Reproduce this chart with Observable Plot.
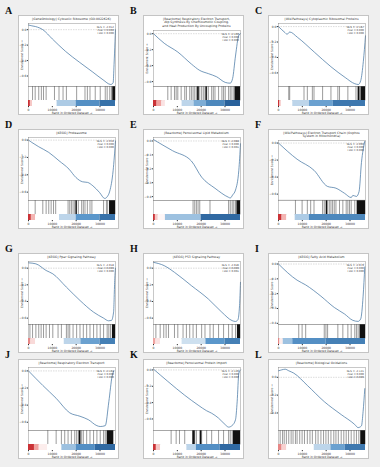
<!DOCTYPE html>
<html><head><meta charset="utf-8">
<script src="https://cdn.jsdelivr.net/npm/d3@7"></script>
<script src="https://cdn.jsdelivr.net/npm/@observablehq/plot@0.6"></script>
<style>
html,body{margin:0;padding:0;background:#efefef;}
#fig{position:relative;width:380px;height:467px;background:#efefef;font-family:"DejaVu Sans",sans-serif;overflow:hidden}
.panel{position:absolute;width:101px;height:100px;background:#fff;border:1px solid #c4c4c4;box-sizing:border-box}
.letter{position:absolute;font-family:"Liberation Serif",serif;font-weight:bold;font-size:10px;line-height:10px;color:#111}
.title{font-size:3.1px;line-height:3.7px;text-align:center;padding:1.5px 3px 0 9px;color:#333;box-sizing:border-box;white-space:pre-line;}
.panel svg{display:block}
</style></head><body><div id="fig"></div>
<script>
// ---------- data ----------
const letters = ["A","B","C","D","E","F","G","H","I","J","K","L"];
const titles = [
  "[GeneOntology] Cytosolic Ribosome (GO:0022626)",
  "[Reactome] Respiratory Electron Transport,\nAtp Synthesis By Chemiosmotic Coupling,\nand Heat Production By Uncoupling Proteins",
  "[WikiPathways] Cytoplasmic Ribosomal Proteins",
  "[KEGG] Proteasome",
  "[Reactome] Peroxisomal Lipid Metabolism",
  "[WikiPathways] Electron Transport Chain (Oxphos\nSystem in Mitochondria)",
  "[KEGG] Ppar Signaling Pathway",
  "[KEGG] P53 Signaling Pathway",
  "[KEGG] Fatty Acid Metabolism",
  "[Reactome] Respiratory Electron Transport",
  "[Reactome] Peroxisomal Protein Import",
  "[Reactome] Biological Oxidations"
];
const nes  = ["-2.012","-2.109","-2.187","-2.059","-2.088","-2.093","-2.018","-2.046","-2.079","-2.104","-2.126","-2.121"];
const pval = ["0.000","0.000","0.000","0.000","0.000","0.000","0.000","0.000","0.000","0.000","0.000","0.000"];
const fdr  = ["0.000","0.000","0.000","0.000","0.001","0.000","0.000","0.001","0.000","0.000","0.000","0.000"];
const xTicks = [0, 10000, 20000, 30000];

// running enrichment score: [rank, ES]
const esA = [[0,0.06],[1400,0.05],[3000,0.04],[6000,0.0],[10000,-0.12],[15500,-0.28],[21300,-0.42],[27000,-0.55],[31300,-0.65],[34500,-0.71],[35500,-0.69],[35900,-0.45],[36300,-0.15],[36500,0]];
const esB = [[0,0],[4500,-0.12],[10200,-0.23],[15900,-0.38],[19400,-0.46],[23000,-0.5],[26500,-0.54],[30100,-0.61],[32200,-0.62],[33200,-0.56],[34400,-0.28],[35800,-0.02],[36500,0]];
const esC = [[0,0],[2800,-0.08],[3600,-0.1],[4700,-0.07],[8000,-0.14],[15000,-0.33],[22000,-0.52],[28000,-0.66],[32000,-0.74],[33500,-0.75],[34500,-0.7],[35600,-0.45],[36500,-0.12]];
const esD = [[0,0],[1400,-0.027],[4300,-0.077],[8500,-0.142],[12800,-0.238],[17000,-0.335],[19900,-0.431],[22700,-0.481],[24800,-0.488],[27000,-0.527],[29800,-0.604],[32000,-0.673],[33000,-0.654],[34100,-0.588],[35500,-0.354],[36500,-0.01]];
const esE = [[0,0.01],[8000,-0.07],[15900,-0.144],[20200,-0.26],[25800,-0.34],[31500,-0.405],[32200,-0.41],[33200,-0.388],[34400,-0.353],[35800,-0.21],[36500,-0.02]];
const esF = [[0,0],[7800,-0.19],[14900,-0.32],[20600,-0.51],[24100,-0.53],[27700,-0.59],[30500,-0.64],[31200,-0.615],[32700,-0.627],[33800,-0.57],[34800,-0.23],[36200,0.02]];
const esG = [[0,0.064],[3100,0.052],[7400,-0.028],[10200,-0.068],[15900,-0.228],[21600,-0.388],[27300,-0.528],[31500,-0.6],[33600,-0.632],[34800,-0.628],[35700,-0.528],[36200,-0.128],[36500,0]];
const esH = [[0,0.07],[4500,0.03],[8800,-0.05],[15900,-0.21],[23000,-0.37],[28700,-0.53],[33000,-0.63],[34400,-0.64],[35400,-0.62],[36100,-0.45],[36500,-0.17]];
const esI = [[0,0],[7800,-0.109],[11400,-0.141],[17800,-0.217],[23400,-0.293],[27700,-0.337],[31200,-0.38],[33400,-0.387],[34500,-0.37],[35500,-0.217],[36200,-0.02]];
const esJ = [[0,0],[6000,-0.17],[11600,-0.32],[17300,-0.49],[21600,-0.53],[25100,-0.57],[28700,-0.64],[30100,-0.65],[32200,-0.64],[33700,-0.36],[35100,-0.06],[35800,0]];
const esK = [[0,0.01],[6000,-0.14],[13100,-0.31],[18700,-0.43],[22300,-0.5],[24400,-0.53],[27300,-0.59],[30100,-0.67],[31500,-0.7],[33000,-0.68],[34400,-0.61],[35100,-0.39],[35800,-0.04],[36500,0]];
const esL = [[0,0.073],[1400,0.084],[2800,0.091],[4300,0.073],[6400,0.047],[12100,-0.091],[19200,-0.273],[26300,-0.418],[31900,-0.527],[33400,-0.564],[34800,-0.545],[35500,-0.382],[36200,-0.127]];

// gene-set hits (ranks) and dense hit blocks [from, to]
const hitsA = [1700,2800,4300,5400,6300,7400,10900,12800,14500,15900,20200,23700,24700,25800,28000,30100,32200,33000,34100,34800,35200];
const blocksA = [[35400,36500]];
const hitsB = [6000,7400,8800,9500,10200,11600,13100,13800,15200,15900,16600,17300,18000,18700,19400,20200,20900,21600,22300,23000,24400,25100,25800,27300,28700,29400,30100,31500,32200,32900,33700];
const blocksB = [[18500,19200],[22000,22600],[34200,36500]];
const hitsC = [4300,4700,10700,12100,14200,14900,18500,22000,24900,25600,29100,32500];
const blocksC = [[33400,34200],[34600,36500]];
const hitsD = [2800,6000,7400,8500,9500,10500,11400,16600,17300,18000,18700,19400,20900,22300,23000,23700,24700,25800,26600,31500,32700,33200];
const blocksD = [[19900,20500],[34000,36500]];
const hitsE = [16600,17300,18000,18700,19400,23700,31500,32200,33000,33700,34400];
const blocksE = [[35000,36500]];
const hitsF = [7100,9900,12100,13500,14900,18500,19200,20600,21300,22000,22700,23400,24100,25600,27000,28400,29100,29800,30500,32000];
const blocksF = [[20000,20600],[33000,36500]];
const hitsG = [600,1700,3100,4300,5300,6300,7400,8800,10200,12400,13800,15900,16600,17300,18700,20200,21600,23000,24400,25800,27300,28700,30100,31500,33000,33700,34400];
const blocksG = [[35200,36500]];
const hitsH = [1000,2800,4300,5300,6300,8800,10200,12400,13800,15200,16600,18000,20200,21600,23700,25100,27300,29400,31500,33000,34400];
const blocksH = [[35200,36500]];
const hitsI = [8500,9900,11400,19200,19900,20600,24900,27000,29100,30500,32000,32700,33400];
const blocksI = [[34200,36500]];
const hitsJ = [8100,11600,13800,15200,16600,18000,19400,20200,20900,21600,22300,23000,24400,25800,27300,28700,30100,31500,32200];
const blocksJ = [[21300,22000],[33000,35800]];
const hitsK = [7400,9500,10900,13100,16600,17300,18000,19400,20200,22300,24400,27300,29400,31500,32200,33000];
const blocksK = [[16500,17500],[19700,20300],[33500,36500]];
const hitsL = [700,1700,2400,3300,4300,5300,6100,7100,7800,8900,9900,10900,12100,13200,14200,15600,16600,17800,18900,19900,20900,22000,23200,24100,25100,26300,27400,28400,29400,30500,31700,32700,33700];
const blocksL = [[34500,36500]];

// ranked-list metric bands [from, to, metric]
const bandsA = [[0,800,0.9],[800,1700,0.3],[1700,12000,0],[12000,20000,-0.25],[20000,30000,-0.55],[30000,36500,-0.75]];
const bandsB = [[0,1500,0.9],[1500,3500,0.5],[3500,5000,0.15],[5000,12000,0],[12000,17000,-0.2],[17000,22000,-0.4],[22000,30000,-0.6],[30000,36500,-0.85]];
const bandsC = [[0,600,0.9],[600,1200,0.3],[1200,6000,0],[6000,13000,-0.2],[13000,23000,-0.45],[23000,36500,-0.7]];
const bandsD = [[0,1200,0.9],[1200,3000,0.4],[3000,13000,0],[13000,20000,-0.2],[20000,30000,-0.5],[30000,36500,-0.75]];
const bandsE = [[0,800,0.9],[800,2000,0.3],[2000,5000,0.05],[5000,20000,-0.3],[20000,36500,-0.8]];
const bandsF = [[0,1500,0.9],[1500,3500,0.4],[3500,7000,0],[7000,13000,-0.25],[13000,36500,-0.6]];
const bandsG = [[0,1000,0.6],[1000,3000,0.2],[3000,15000,0],[15000,22000,-0.2],[22000,30000,-0.45],[30000,36500,-0.65]];
const bandsH = [[0,1000,0.5],[1000,3000,0.15],[3000,12000,0],[12000,22000,-0.15],[22000,30000,-0.5],[30000,36500,-0.65]];
const bandsI = [[0,600,0.6],[600,2000,0.1],[2000,6000,-0.3],[6000,20000,-0.55],[20000,36500,-0.65]];
const bandsJ = [[0,2500,0.9],[2500,4500,0.5],[4500,8000,0.1],[8000,14000,0],[14000,20000,-0.3],[20000,28000,-0.55],[28000,36500,-0.8]];
const bandsK = [[0,1200,0.9],[1200,3000,0.3],[3000,14000,0],[14000,18000,-0.2],[18000,28000,-0.55],[28000,36500,-0.8]];
const bandsL = [[0,1500,0.6],[1500,3500,0.25],[3500,15000,0],[15000,22000,-0.2],[22000,28000,-0.45],[28000,36500,-0.7]];

// ---------- panel configuration (scales / layout) ----------
const N = 36500;
const esAll = [esA,esB,esC,esD,esE,esF,esG,esH,esI,esJ,esK,esL];
const hitsAll = [hitsA,hitsB,hitsC,hitsD,hitsE,hitsF,hitsG,hitsH,hitsI,hitsJ,hitsK,hitsL];
const blocksAll = [blocksA,blocksB,blocksC,blocksD,blocksE,blocksF,blocksG,blocksH,blocksI,blocksJ,blocksK,blocksL];
const bandsAll = [bandsA,bandsB,bandsC,bandsD,bandsE,bandsF,bandsG,bandsH,bandsI,bandsJ,bandsK,bandsL];
const yDomains = [[-0.74,0.08],[-0.66,0.04],[-0.78,0.04],[-0.70,0.03],[-0.43,0.025],[-0.67,0.03],[-0.68,0.08],[-0.68,0.08],[-0.41,0.017],[-0.70,0.04],[-0.745,0.03],[-0.6,0.11]];
const yTickSets = [[0,-0.2,-0.4,-0.6],[0,-0.2,-0.4,-0.6],[0,-0.2,-0.4,-0.6],[0,-0.2,-0.4,-0.6],[0,-0.1,-0.2,-0.3,-0.4],[0,-0.2,-0.4,-0.6],[0,-0.2,-0.4,-0.6],[0,-0.2,-0.4,-0.6],[0,-0.1,-0.2,-0.3,-0.4],[0,-0.2,-0.4,-0.6],[0,-0.2,-0.4,-0.6],[0,-0.2,-0.4]];
const colX = [18, 143, 268];
const rowY = [15, 129, 253, 359];
const letterX = [5, 130, 255];
const letterY = [6, 120, 244, 350];

const fig = document.getElementById("fig");
const ML = 9, MR = 3, W = 101;
const fontStyle = {fontSize: "3px", fontFamily: "DejaVu Sans", background: "transparent", overflow: "visible", color: "#333"};
const colorScale = {type: "linear", domain: [-1, -0.5, 0, 0.5, 1], range: ["#134a86", "#5b97cb", "#ffffff", "#f0a3a0", "#c0161c"]};

letters.forEach((L, i) => {
  const c = i % 3, r = Math.floor(i / 3);
  const lab = document.createElement("div");
  lab.className = "letter";
  lab.style.left = letterX[c] + "px";
  lab.style.top = letterY[r] + "px";
  lab.textContent = L;
  fig.appendChild(lab);

  const panel = document.createElement("div");
  panel.className = "panel";
  panel.style.left = colX[c] + "px";
  panel.style.top = rowY[r] + "px";
  fig.appendChild(panel);

  const nLines = titles[i].split("\n").length;
  const titleH = 3 + 3.7 * nLines;
  const t = document.createElement("div");
  t.className = "title";
  t.style.height = titleH + "px";
  t.textContent = titles[i];
  panel.appendChild(t);

  const esH = 70 - titleH;
  const legend = ["NES = " + nes[i], "Pval = " + pval[i], "FDR = " + fdr[i]];
  panel.appendChild(Plot.plot({
    width: W - 2, height: esH, marginLeft: ML, marginRight: MR, marginTop: 0, marginBottom: 0,
    style: fontStyle,
    x: {domain: [0, N], axis: null},
    y: {domain: yDomains[i], ticks: yTickSets[i], tickSize: 1.2, tickPadding: 0.8, tickFormat: d3.format(".1f"),
        label: "Enrichment Score", labelAnchor: "center", labelOffset: 7.3},
    marks: [
      Plot.ruleY([0], {stroke: "#9a9a9a", strokeWidth: 0.35, strokeDasharray: "1.5,1"}),
      Plot.line(esAll[i], {x: d => d[0], y: d => d[1], stroke: "#3b6f9e", strokeWidth: 0.7, curve: "monotone-x"}),
      ...legend.map((s, k) => Plot.text([s], {frameAnchor: "top-right", dx: -1.5, dy: 2.5 + k * 3.2, fontSize: 2.6, textAnchor: "end", fill: "#333"})),
      Plot.frame({stroke: "#777", strokeWidth: 0.4})
    ]
  }));

  panel.appendChild(Plot.plot({
    width: W - 2, height: 14, marginLeft: ML, marginRight: MR, marginTop: 0, marginBottom: 0,
    style: fontStyle,
    x: {domain: [0, N], axis: null},
    marks: [
      Plot.rect(blocksAll[i], {x1: d => d[0], x2: d => d[1], fill: "#111"}),
      Plot.ruleX(hitsAll[i], {stroke: "#222", strokeWidth: 0.45}),
      Plot.frame({stroke: "#777", strokeWidth: 0.4})
    ]
  }));

  panel.appendChild(Plot.plot({
    width: W - 2, height: 15, marginLeft: ML, marginRight: MR, marginTop: 0, marginBottom: 9,
    style: fontStyle,
    x: {domain: [0, N], ticks: xTicks, tickFormat: d3.format("d"), tickSize: 1.2, tickPadding: 0.8,
        label: "Rank in Ordered Dataset", labelAnchor: "center", labelOffset: 7.5},
    color: colorScale,
    marks: [
      Plot.rect(bandsAll[i], {x1: d => d[0], x2: d => d[1], fill: d => d[2]})
    ]
  }));
});
</script></body></html>
